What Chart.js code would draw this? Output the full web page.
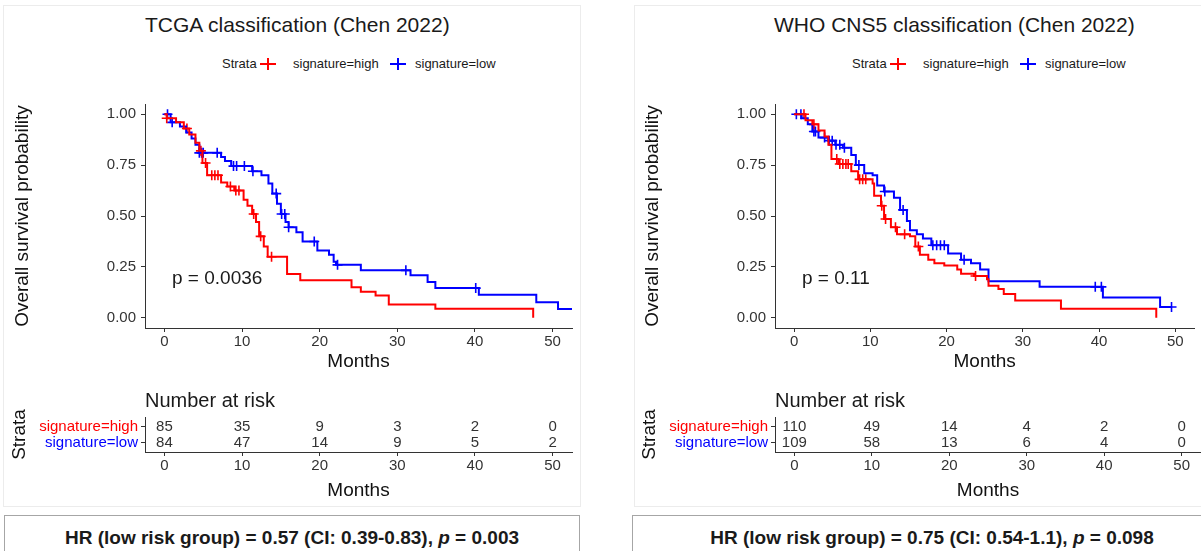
<!DOCTYPE html>
<html lang="en">
<head>
  <meta charset="UTF-8">
  <title>Kaplan-Meier curves (Chen 2022)</title>
  <script src="https://cdn.jsdelivr.net/npm/chart.js"></script>
  <style>
    body {
      margin: 0;
      background: #fff;
      font-family: "Liberation Sans", Arial, sans-serif;
      color: #1a1a1a;
    }
    #page {
      position: relative;
      width: 1201px;
      height: 551px;
      overflow: hidden;
    }
    #page > * {
      position: absolute;
    }
    .frame {
      border: 1px solid #ececec;
    }
    .title {
      font-size: 21px;
      line-height: 24px;
      white-space: nowrap;
    }
    .lg {
      font-size: 13px;
      line-height: 16px;
      white-space: nowrap;
    }
    .key {
      width: 16px;
      height: 12px;
    }
    .key::before {
      content: "";
      position: absolute;
      left: 0; right: 0; top: 5px;
      height: 2px;
      background: currentColor;
    }
    .key::after {
      content: "";
      position: absolute;
      left: 7px; top: 0; bottom: 0;
      width: 2px;
      background: currentColor;
    }
    .pval {
      font-size: 19px;
      line-height: 22px;
      white-space: nowrap;
    }
    .nar {
      font-size: 20px;
      line-height: 24px;
      white-space: nowrap;
    }
    .hr {
      border: 1px solid #a6a6a6;
      height: 60px;
      box-sizing: border-box;
      padding-top: 11px;
      text-align: center;
      font-family: "Liberation Sans Narrow", "Liberation Sans", Arial, sans-serif;
      font-weight: bold;
      font-size: 19px;
      line-height: 22px;
      white-space: nowrap;
    }
  </style>
</head>
<body>
<div id="page">
  <div class="frame" style="left:3px;top:5px;width:576px;height:500px"></div>
  <div class="frame" style="left:634px;top:5px;width:580px;height:500px"></div>

  <div class="title" style="left:145px;top:13px">TCGA classification (Chen 2022)</div>
  <div class="lg" style="left:222px;top:56px">Strata</div>
  <div class="key" style="left:260px;top:58px;color:#ff0000"></div>
  <div class="lg" style="left:293px;top:56px">signature=high</div>
  <div class="key" style="left:390px;top:58px;color:#0000ff"></div>
  <div class="lg" style="left:415px;top:56px">signature=low</div>

  <div class="title" style="left:774px;top:13px">WHO CNS5 classification (Chen 2022)</div>
  <div class="lg" style="left:852px;top:56px">Strata</div>
  <div class="key" style="left:890px;top:58px;color:#ff0000"></div>
  <div class="lg" style="left:923px;top:56px">signature=high</div>
  <div class="key" style="left:1020px;top:58px;color:#0000ff"></div>
  <div class="lg" style="left:1045px;top:56px">signature=low</div>

  <canvas id="kmTcga" width="590" height="285" style="left:0;top:90px"></canvas>
  <canvas id="kmWho" width="571" height="285" style="left:630px;top:90px"></canvas>
  <canvas id="riskTcga" width="590" height="99" style="left:0;top:405px"></canvas>
  <canvas id="riskWho" width="571" height="99" style="left:630px;top:405px"></canvas>

  <div class="pval" style="left:172px;top:267px">p = 0.0036</div>
  <div class="pval" style="left:802px;top:267px">p = 0.11</div>

  <div class="nar" style="left:145px;top:388px">Number at risk</div>
  <div class="nar" style="left:775px;top:388px">Number at risk</div>

  <div class="hr" style="left:4px;top:515px;width:576px">HR (low risk group) = 0.57 (CI: 0.39-0.83), <i>p</i> = 0.003</div>
  <div class="hr" style="left:632px;top:515px;width:600px">HR (low risk group) = 0.75 (CI: 0.54-1.1), <i>p</i> = 0.098</div>
</div>

<script>
  // ejes y grupos
  const months = [0, 10, 20, 30, 40, 50];
  const survTicks = [0, 0.25, 0.5, 0.75, 1];
  const strata = ['signature=high', 'signature=low'];

  // TCGA - signature=high
  const tcgaHighTime = [0, 0.3, 1.5, 2.5, 3.2, 4.0, 4.5, 4.9, 5.5, 7.3, 8.1, 9.0, 10.2, 10.7, 11.3, 11.8, 12.2, 12.8, 13.3, 15.8, 17.5, 24.1, 25.3, 27.2, 28.9, 34.9, 47.5];
  const tcgaHighSurv = [1.0, 0.98, 0.96, 0.93, 0.90, 0.86, 0.82, 0.76, 0.70, 0.665, 0.645, 0.625, 0.58, 0.55, 0.51, 0.47, 0.40, 0.35, 0.30, 0.215, 0.185, 0.15, 0.128, 0.109, 0.066, 0.045, 0.0];
  const tcgaHighCens = [0.3, 2.9, 4.7, 5.3, 6.1, 6.5, 6.9, 8.5, 9.2, 9.6, 11.5, 12.4, 13.8];
  // TCGA - signature=low
  const tcgaLowTime = [0, 0.8, 2.0, 2.8, 3.5, 4.0, 4.5, 7.3, 7.8, 8.6, 11.3, 12.5, 13.4, 13.9, 14.5, 15.0, 15.6, 16.0, 17.0, 17.8, 19.7, 21.2, 21.8, 22.1, 25.3, 31.7, 33.9, 34.9, 40.5, 47.9, 50.7, 52.7];
  const tcgaLowSurv = [1.0, 0.96, 0.94, 0.91, 0.88, 0.85, 0.81, 0.79, 0.77, 0.745, 0.72, 0.70, 0.66, 0.61, 0.56, 0.51, 0.47, 0.445, 0.42, 0.375, 0.33, 0.31, 0.275, 0.26, 0.233, 0.209, 0.176, 0.146, 0.113, 0.077, 0.043, 0.043];
  const tcgaLowCens = [0.4, 1.0, 4.5, 4.8, 5.0, 6.8, 8.9, 9.3, 10.3, 11.4, 14.4, 15.1, 15.5, 16.0, 19.3, 22.3, 31.1, 40.1];
  const tcgaRiskHigh = [85, 35, 9, 3, 2, 0];
  const tcgaRiskLow = [84, 47, 14, 9, 5, 2];

  // WHO CNS5 - signature=high
  const whoHighTime = [0, 1.5, 2.4, 3.2, 4.0, 4.5, 4.9, 5.8, 7.5, 8.4, 10.3, 10.5, 11.4, 11.8, 12.7, 13.5, 15.2, 15.9, 16.5, 17.6, 18.4, 19.7, 21.4, 21.9, 23.6, 25.3, 25.5, 26.8, 27.5, 29.0, 35.0, 47.5];
  const whoHighSurv = [1.0, 0.97, 0.95, 0.92, 0.89, 0.85, 0.78, 0.755, 0.72, 0.68, 0.66, 0.60, 0.55, 0.485, 0.445, 0.41, 0.40, 0.35, 0.31, 0.285, 0.268, 0.257, 0.237, 0.216, 0.205, 0.189, 0.157, 0.141, 0.117, 0.085, 0.045, 0.0];
  const whoHighCens = [1.3, 2.6, 5.6, 6.0, 6.4, 6.8, 7.1, 8.6, 9.0, 9.4, 11.5, 12.0, 13.3, 14.5, 16.3, 23.8];
  // WHO CNS5 - signature=low
  const whoLowTime = [0, 1.0, 1.8, 2.4, 3.2, 4.5, 5.4, 6.4, 7.5, 8.1, 9.2, 10.3, 10.9, 11.8, 13.1, 13.9, 14.8, 15.2, 16.1, 16.9, 18.0, 20.2, 21.9, 23.2, 24.4, 25.5, 32.2, 40.5, 48.0, 49.5];
  const whoLowSurv = [1.0, 0.98, 0.95, 0.915, 0.885, 0.87, 0.85, 0.835, 0.80, 0.75, 0.71, 0.70, 0.65, 0.62, 0.59, 0.53, 0.475, 0.43, 0.41, 0.39, 0.356, 0.316, 0.285, 0.268, 0.237, 0.18, 0.152, 0.10, 0.053, 0.053];
  const whoLowCens = [0.3, 0.9, 2.6, 2.8, 4.0, 4.6, 5.0, 5.5, 6.0, 6.6, 8.5, 11.9, 14.3, 18.2, 18.7, 19.2, 19.7, 22.3, 39.5, 40.3, 49.5];
  const whoRiskHigh = [110, 49, 14, 4, 2, 0];
  const whoRiskLow = [109, 58, 13, 6, 4, 0];

  const RED = '#ff0000';
  const BLUE = '#0000ff';
  const AXIS = '#333333';
  const TEXT = '#333333';

  Chart.defaults.font.family = '"Liberation Sans", Arial, sans-serif';

  // valor de la curva en un tiempo dado (para las marcas de censura)
  function stepAt(times, surv, t) {
    let s = surv[0];
    for (let i = 0; i < times.length; i++) {
      if (times[i] <= t) s = surv[i];
    }
    return s;
  }

  function curve(times, surv) {
    return times.map((t, i) => ({ x: t, y: surv[i] }));
  }

  function censMarks(times, surv, cens) {
    return cens.map(t => ({ x: t, y: stepAt(times, surv, t) }));
  }

  function monthsAxis(height) {
    return {
      type: 'linear',
      min: -2.5,
      max: 52.5,
      afterBuildTicks: s => { s.ticks = months.map(v => ({ value: v })); },
      afterFit: s => { s.height = height; },
      grid: { drawOnChartArea: false, color: AXIS, tickLength: 4 },
      border: { color: AXIS, width: 1 },
      ticks: { font: { size: 15 }, color: TEXT, padding: 1, maxRotation: 0 },
      title: { display: true, text: 'Months', font: { size: 19 }, color: '#111', padding: { top: 0, bottom: 2 } }
    };
  }

  function drawKM(id, hiT, hiS, hiC, loT, loS, loC, padRight) {
    const lineSet = (data, color) => ({
      type: 'line', data, borderColor: color, borderWidth: 2,
      stepped: true, pointRadius: 0, fill: false
    });
    const markSet = (data, color) => ({
      data, pointStyle: 'cross', pointRadius: 5,
      borderColor: color, borderWidth: 1.6, backgroundColor: color
    });

    new Chart(document.getElementById(id), {
      type: 'scatter',
      data: {
        datasets: [
          lineSet(curve(hiT, hiS), RED),
          lineSet(curve(loT, loS), BLUE),
          markSet(censMarks(hiT, hiS, hiC), RED),
          markSet(censMarks(loT, loS, loC), BLUE)
        ]
      },
      options: {
        responsive: false,
        animation: false,
        events: [],
        layout: { padding: { top: 9, right: padRight, left: 0, bottom: 0 } },
        plugins: { legend: { display: false }, tooltip: { enabled: false } },
        scales: {
          x: monthsAxis(47),
          y: {
            min: -0.05,
            max: 1.05,
            afterBuildTicks: s => { s.ticks = survTicks.map(v => ({ value: v })); },
            afterFit: s => { s.width = 145; },
            grid: { drawOnChartArea: false, color: AXIS, tickLength: 4 },
            border: { color: AXIS, width: 1 },
            ticks: { font: { size: 15 }, color: TEXT, padding: 5, callback: v => v.toFixed(2) },
            title: { display: true, text: 'Overall survival probability', font: { size: 19 }, color: '#111', padding: { top: 11, bottom: 0 } }
          }
        }
      }
    });
  }

  function drawRisk(id, hiN, loN, padRight) {
    // números en riesgo escritos sobre la tabla
    const riskText = {
      id: 'riskText',
      afterDraw(chart) {
        const { ctx, scales: { x, y } } = chart;
        ctx.save();
        ctx.font = '15px "Liberation Sans", Arial, sans-serif';
        ctx.fillStyle = TEXT;
        ctx.textAlign = 'center';
        ctx.textBaseline = 'middle';
        months.forEach((m, i) => {
          ctx.fillText(String(hiN[i]), x.getPixelForValue(m), y.getPixelForValue(2));
          ctx.fillText(String(loN[i]), x.getPixelForValue(m), y.getPixelForValue(1));
        });
        ctx.restore();
      }
    };

    new Chart(document.getElementById(id), {
      type: 'scatter',
      data: { datasets: [] },
      options: {
        responsive: false,
        animation: false,
        events: [],
        layout: { padding: { top: 12, right: padRight, left: 0, bottom: 0 } },
        plugins: { legend: { display: false }, tooltip: { enabled: false } },
        scales: {
          x: monthsAxis(52),
          y: {
            min: 0.4,
            max: 2.6,
            afterBuildTicks: s => { s.ticks = [1, 2].map(v => ({ value: v })); },
            afterFit: s => { s.width = 145; },
            grid: { drawOnChartArea: false, color: AXIS, tickLength: 4 },
            border: { color: AXIS, width: 1 },
            ticks: {
              font: { size: 15 },
              padding: 3,
              color: c => (c.tick && c.tick.value === 2 ? RED : BLUE),
              callback: v => (v === 2 ? strata[0] : strata[1])
            },
            title: { display: true, text: 'Strata', font: { size: 19 }, color: '#111', padding: { top: 8, bottom: 0 } }
          }
        }
      },
      plugins: [riskText]
    });
  }

  drawKM('kmTcga', tcgaHighTime, tcgaHighSurv, tcgaHighCens, tcgaLowTime, tcgaLowSurv, tcgaLowCens, 18);
  drawKM('kmWho', whoHighTime, whoHighSurv, whoHighCens, whoLowTime, whoLowSurv, whoLowCens, 0);
  drawRisk('riskTcga', tcgaRiskHigh, tcgaRiskLow, 18);
  drawRisk('riskWho', whoRiskHigh, whoRiskLow, 0);
</script>
</body>
</html>
